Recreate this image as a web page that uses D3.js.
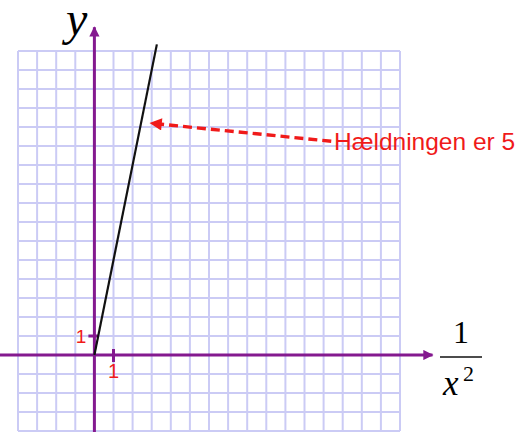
<!DOCTYPE html>
<html lang="da">
<head>
<meta charset="UTF-8">
<title>Hældning</title>
<script src="https://d3js.org/d3.v7.min.js"></script>
<style>
  body { margin: 0; padding: 0; background: #fff; }
  svg { display: block; }
</style>
</head>
<body>
<svg id="chart" width="520" height="432"></svg>
<script>
// grid runs from -4 to 16 on both axes, one line per unit
const gridDomain = [-4, 16];
const xAxisExtent = [-4.95, 17.7];
const yAxisExtent = [-4.1, 17.25];
const tickValues = [1];
const tickLabels = ["1"];
// the straight line y = 5 * (1/x^2)
const slope = 5;
const lineX = [0, 3.27];
const annotation = { text: "Hældningen er 5", tip: [2.95, 12.2], tail: [12.4, 11.25] };

const svg = d3.select("#chart");
const purple = "#84198f";
const red = "#f01a1a";
const sans = "'Liberation Sans', Arial, sans-serif";
const serif = "'Liberation Serif', 'Times New Roman', serif";

const x = d3.scaleLinear().domain(gridDomain).range([18, 400]);
const y = d3.scaleLinear().domain(gridDomain).range([431, 51]);

// grid
const grid = svg.append("g").attr("stroke", "#cbcbf5").attr("stroke-width", 2);
d3.range(gridDomain[0], gridDomain[1] + 1).forEach(v => {
  grid.append("line")
    .attr("x1", x(v)).attr("x2", x(v))
    .attr("y1", y(gridDomain[0])).attr("y2", y(gridDomain[1]));
  grid.append("line")
    .attr("y1", y(v)).attr("y2", y(v))
    .attr("x1", x(gridDomain[0])).attr("x2", x(gridDomain[1]));
});

// arrow markers
const defs = svg.append("defs");
defs.append("marker")
  .attr("id", "axisArrow")
  .attr("viewBox", "0 0 10 10")
  .attr("refX", 9).attr("refY", 5)
  .attr("markerWidth", 4).attr("markerHeight", 3.4)
  .attr("markerUnits", "strokeWidth")
  .attr("orient", "auto")
  .append("path").attr("d", "M0,0L10,5L0,10Z").attr("fill", purple);
defs.append("marker")
  .attr("id", "redArrow")
  .attr("viewBox", "0 0 10 10")
  .attr("refX", 9).attr("refY", 5)
  .attr("markerWidth", 5).attr("markerHeight", 3.6)
  .attr("markerUnits", "strokeWidth")
  .attr("orient", "auto")
  .append("path").attr("d", "M0,0L10,5L0,10Z").attr("fill", red);

// axes
svg.append("line")
  .attr("x1", x(xAxisExtent[0])).attr("x2", x(xAxisExtent[1]))
  .attr("y1", y(0)).attr("y2", y(0))
  .attr("stroke", purple).attr("stroke-width", 3)
  .attr("marker-end", "url(#axisArrow)");
svg.append("line")
  .attr("x1", x(0)).attr("x2", x(0))
  .attr("y1", y(yAxisExtent[0])).attr("y2", y(yAxisExtent[1]))
  .attr("stroke", purple).attr("stroke-width", 3)
  .attr("marker-end", "url(#axisArrow)");

// ticks
tickValues.forEach((v, i) => {
  svg.append("line")
    .attr("x1", x(v)).attr("x2", x(v))
    .attr("y1", y(0) - 6).attr("y2", y(0) + 7)
    .attr("stroke", purple).attr("stroke-width", 3);
  svg.append("line")
    .attr("x1", x(0) - 6).attr("x2", x(0) + 4)
    .attr("y1", y(v)).attr("y2", y(v))
    .attr("stroke", purple).attr("stroke-width", 3);
  svg.append("text")
    .attr("x", x(v)).attr("y", y(0) + 23)
    .attr("text-anchor", "middle")
    .attr("font-family", sans)
    .attr("font-size", 20).attr("fill", red)
    .text(tickLabels[i]);
  svg.append("text")
    .attr("x", x(0) - 8).attr("y", y(v) + 7)
    .attr("text-anchor", "end")
    .attr("font-family", sans)
    .attr("font-size", 19).attr("fill", red)
    .text(tickLabels[i]);
});

// the line
const line = d3.line().x(d => x(d)).y(d => y(slope * d));
svg.append("path")
  .datum(lineX)
  .attr("d", line)
  .attr("fill", "none")
  .attr("stroke", "#111")
  .attr("stroke-width", 2.2);

// axis labels
svg.append("text")
  .attr("x", 66).attr("y", 35)
  .attr("font-family", serif)
  .attr("font-style", "italic")
  .attr("font-size", 48)
  .text("y");

const frac = svg.append("g").attr("font-family", serif);
frac.append("text")
  .attr("x", 461).attr("y", 343)
  .attr("text-anchor", "middle")
  .attr("font-size", 32)
  .text("1");
frac.append("line")
  .attr("x1", 440).attr("x2", 482)
  .attr("y1", 357).attr("y2", 357)
  .attr("stroke", "#111").attr("stroke-width", 1.6);
frac.append("text")
  .attr("x", 443).attr("y", 395)
  .attr("font-size", 35)
  .attr("font-style", "italic")
  .text("x");
frac.append("text")
  .attr("x", 463).attr("y", 381)
  .attr("font-size", 22)
  .text("2");

// annotation
svg.append("line")
  .attr("x1", x(annotation.tail[0])).attr("y1", y(annotation.tail[1]))
  .attr("x2", x(annotation.tip[0])).attr("y2", y(annotation.tip[1]))
  .attr("stroke", red).attr("stroke-width", 3.4)
  .attr("stroke-dasharray", "9,5")
  .attr("marker-end", "url(#redArrow)");
svg.append("text")
  .attr("x", 334).attr("y", 150)
  .attr("font-family", sans)
  .attr("font-size", 24.5)
  .attr("fill", red)
  .text(annotation.text);
</script>
</body>
</html>
